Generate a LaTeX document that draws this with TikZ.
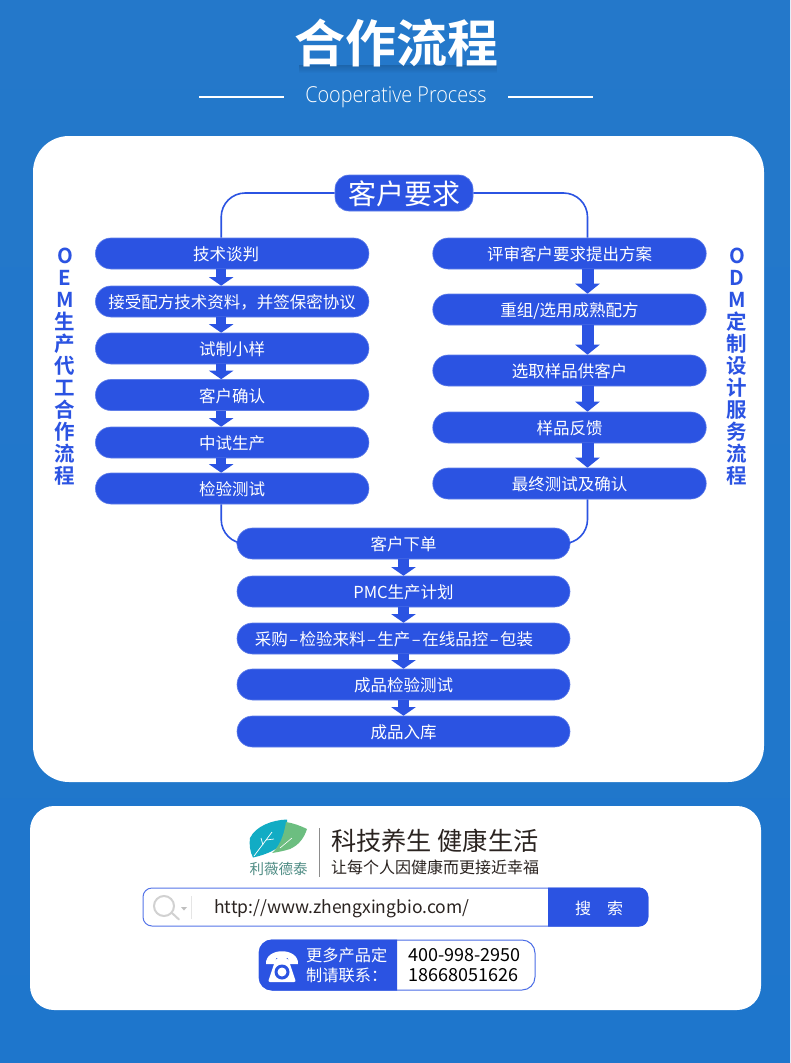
\documentclass[tikz,border=0pt]{standalone}
\usepackage{fontspec}
\setmainfont{Noto Sans CJK SC}
\newfontfamily\boldcjk{Noto Sans CJK SC Bold}
\newfontfamily\latinlight[FakeStretch=0.9]{Open Sans Light}
\usepackage{xcolor}
\definecolor{pageblue}{RGB}{30, 118, 204}
\definecolor{pagetop}{RGB}{36, 120, 202}
\definecolor{pillblue}{RGB}{43, 83, 226}
\definecolor{inkdark}{RGB}{42, 35, 32}
\definecolor{leafteal}{RGB}{18, 172, 196}
\definecolor{leafgreen}{RGB}{108, 190, 128}
\definecolor{logotext}{RGB}{78, 140, 132}
\usetikzlibrary{arrows.meta, positioning, calc, fadings}

\begin{document}
\begin{tikzpicture}[x=1pt, y=-1pt,
    pillbox/.style={fill=pillblue, draw=pillblue!75, line width=0.6pt, rounded corners=15.4pt, inner sep=0pt, minimum height=31pt, text=white, text height=16pt, text depth=2pt, font=\fontsize{16.5}{20}\selectfont},
    sidebox/.style={pillbox, minimum width=273.5pt},
    mainbox/.style={pillbox, minimum width=333pt},
    flowline/.style={draw=pillblue, line width=1.6pt, rounded corners=24pt},
    flowarrow/.style={draw=pillblue, line width=10.5pt, -{Triangle[width=24pt, length=8.5pt]}},
    bigarrow/.style={draw=pillblue, line width=12pt, -{Triangle[width=24pt, length=10pt]}},
    sidetitle/.style={text=pillblue, align=center, inner sep=0pt, font=\boldcjk\fontsize{20.5}{22}\selectfont},
    card/.style={fill=white}]
    \useasboundingbox (0, 0) rectangle (790, 1063);
    \shade[top color=pagetop, bottom color=pageblue] (0, 0) rectangle (790, 1063);

    % heading
    \fill[black!55!pageblue, opacity=0.28, path fading=south] (299, 65) rectangle (497, 73);
    \node[text=white, inner sep=0pt, font=\boldcjk\fontsize{51}{56}\selectfont] (title) at (396, 43) {合作流程};
    \node[text=white, inner sep=0pt, font=\latinlight\fontsize{22}{26}\selectfont] (subtitle) at (396, 97) {Cooperative Process};
    \coordinate (ruleA) at (199, 97);
    \coordinate (ruleB) at (284, 97);
    \coordinate (ruleC) at (508, 97);
    \coordinate (ruleD) at (593, 97);
    \draw[white, line width=1.2pt] (ruleA) -- (ruleB);
    \draw[white, line width=1.2pt] (ruleC) -- (ruleD);

    % cards
    \fill[card, rounded corners=36pt] (33, 136) rectangle (764, 782);
    \fill[card, rounded corners=24pt] (30, 806) rectangle (761, 1010);

    \node[pillbox, rounded corners=14pt, minimum width=138pt, minimum height=36pt, text height=26pt, text depth=3pt, font=\fontsize{28}{32}\selectfont] (request) at (404, 193) {客户要求};

    % OEM column
    \node[sidebox] (talk) at (232.2, 253.5) {\hspace*{-12pt}技术谈判};
    \node[sidebox] (formula) at (232.2, 301.5) {接受配方技术资料，并签保密协议};
    \node[sidebox] (sample) at (232.2, 348.5) {试制小样};
    \node[sidebox] (confirm) at (232.2, 395) {客户确认};
    \node[sidebox] (pilot) at (232.2, 442.5) {中试生产};
    \node[sidebox] (check) at (232.2, 488.5) {检验测试};

    % ODM column
    \node[sidebox] (review) at (569.5, 253.5) {评审客户要求提出方案};
    \node[sidebox] (recipe) at (569.5, 309.5) {重组/选用成熟配方};
    \node[sidebox] (pick) at (569.5, 370.5) {选取样品供客户};
    \node[sidebox] (feedback) at (569.5, 427.5) {样品反馈};
    \node[sidebox] (final) at (569.5, 483.5) {最终测试及确认};

    % shared column
    \node[mainbox] (order) at (403.5, 543.5) {客户下单};
    \node[mainbox] (plan) at (403.5, 591.5) {PMC生产计划};
    \node[mainbox] (buy) at (403.5, 638.5) {\hspace*{-19pt}采购\hspace{1.5pt}–\hspace{1.5pt}检验来料\hspace{1.5pt}–\hspace{1.5pt}生产\hspace{1.5pt}–\hspace{1.5pt}在线品控\hspace{1.5pt}–\hspace{1.5pt}包装};
    \node[mainbox] (test) at (403.5, 684.5) {成品检验测试};
    \node[mainbox] (store) at (403.5, 731.5) {成品入库};

    \draw[flowline] (request.west) -| ([xshift=-11pt]talk.north);
    \draw[flowline] (request.east) -| ([xshift=18pt]review.north);
    \draw[flowline] ([xshift=-11pt]check.south) |- (order.west);
    \draw[flowline] ([xshift=18pt]final.south) |- (order.east);

    \draw[flowarrow] ([xshift=-11pt]talk.south) -- ([xshift=-11pt]formula.north);
    \draw[flowarrow] ([xshift=-11pt]formula.south) -- ([xshift=-11pt]sample.north);
    \draw[flowarrow] ([xshift=-11pt]sample.south) -- ([xshift=-11pt]confirm.north);
    \draw[flowarrow] ([xshift=-11pt]confirm.south) -- ([xshift=-11pt]pilot.north);
    \draw[flowarrow] ([xshift=-11pt]pilot.south) -- ([xshift=-11pt]check.north);

    \draw[bigarrow] ([xshift=18pt]review.south) -- ([xshift=18pt]recipe.north);
    \draw[bigarrow] ([xshift=18pt]recipe.south) -- ([xshift=18pt]pick.north);
    \draw[bigarrow] ([xshift=18pt]pick.south) -- ([xshift=18pt]feedback.north);
    \draw[bigarrow] ([xshift=18pt]feedback.south) -- ([xshift=18pt]final.north);

    \draw[flowarrow] (order.south) -- (plan.north);
    \draw[flowarrow] (plan.south) -- (buy.north);
    \draw[flowarrow] (buy.south) -- (test.north);
    \draw[flowarrow] (test.south) -- (store.north);

    \node[sidetitle] (oemtitle) at (65, 367) {O\\E\\M\\生\\产\\代\\工\\合\\作\\流\\程};
    \node[sidetitle] (odmtitle) at (737, 367) {O\\D\\M\\定\\制\\设\\计\\服\\务\\流\\程};

    % logo
    \fill[leafteal] (250, 838) .. controls (256, 826) and (272, 820) .. (287, 819.5) .. controls (288, 830) and (284, 842) .. (277, 848) .. controls (270, 853) and (260, 856) .. (253, 857.5) .. controls (250, 852) and (249, 844) .. (250, 838) -- cycle;
    \fill[leafgreen] (286, 822) .. controls (293, 823) and (301, 826) .. (307, 829) .. controls (304, 838) and (299, 845) .. (290, 849) .. controls (284, 851) and (278, 852) .. (272, 853) .. controls (279, 847) and (284, 836) .. (286, 822) -- cycle;
    \draw[white, line width=0.7pt] (254, 856) -- (272, 832) (263, 845) -- (261, 838) (266, 840) -- (274, 839);
    \draw[white, line width=0.6pt] (280, 848) -- (292, 838);
    \node[text=logotext, inner sep=0pt, font=\fontsize{14.5}{16}\selectfont] (brand) at (278.5, 869) {利薇德泰};
    \draw[black!45, line width=1pt] (319, 828) -- (319, 876.5);
    \node[text=inkdark, inner sep=0pt, anchor=west, font=\fontsize{25.2}{28}\selectfont] (slogan) at (331, 841) {科技养生 健康生活};
    \node[text=inkdark, inner sep=0pt, anchor=west, font=\fontsize{16}{20}\selectfont] (motto) at (331, 867.5) {让每个人因健康而更接近幸福};

    % search bar
    \draw[pillblue!80, line width=1pt, fill=white, rounded corners=9pt] (143, 888) rectangle (648, 926);
    \fill[pillblue] (548, 887.5) [rounded corners=9pt] -- (648, 887.5) -- (648, 926.5) [sharp corners] -- (548, 926.5) -- cycle;
    \draw[black!18, line width=2pt] (164, 906) circle (10);
    \draw[black!18, line width=2pt, line cap=round] (172, 913) -- (179, 919.5);
    \fill[black!25] (181, 907) -- (187, 907) -- (184, 910.5) -- cycle;
    \draw[black!10, line width=1pt] (191.5, 896) -- (191.5, 919);
    \node[text=inkdark, inner sep=0pt, anchor=west, font=\fontsize{17.5}{20}\selectfont] (url) at (214, 908.5) {http://www.zhengxingbio.com/};
    \node[text=white, inner sep=0pt, font=\fontsize{16}{20}\selectfont] (search) at (599, 908) {搜\hspace{16pt}索};

    % contact box
    \draw[pillblue!85, line width=1pt, fill=white, rounded corners=13pt] (259, 940) rectangle (535, 990);
    \fill[pillblue] (397, 939.5) [rounded corners=13pt] -- (259, 939.5) -- (259, 990.5) [sharp corners] -- (397, 990.5) -- cycle;
    \fill[white] (266, 964) .. controls (265, 947) and (299, 947) .. (298, 964) -- (289, 964) -- (288, 958) -- (276, 958) -- (275, 964) -- cycle;
    \fill[white, rounded corners=2pt] (276, 958) -- (288, 958) -- (296, 982) -- (268, 982) -- cycle;
    \fill[pillblue] (282, 972) circle (7.5);
    \fill[white] (282, 972) circle (4.5);
    \node[text=white, inner sep=0pt, anchor=west, font=\fontsize{16.2}{20}\selectfont] (moreA) at (306, 955) {更多产品定};
    \node[text=white, inner sep=0pt, anchor=west, font=\fontsize{16.2}{20}\selectfont] (moreB) at (306, 975) {制请联系：};
    \node[text=black, inner sep=0pt, anchor=west, font=\fontsize{18}{20}\selectfont] (hotline) at (408, 955.5) {400-998-2950};
    \node[text=black, inner sep=0pt, anchor=west, font=\fontsize{18}{20}\selectfont] (mobile) at (408, 975.5) {18668051626};
\end{tikzpicture}
\end{document}
